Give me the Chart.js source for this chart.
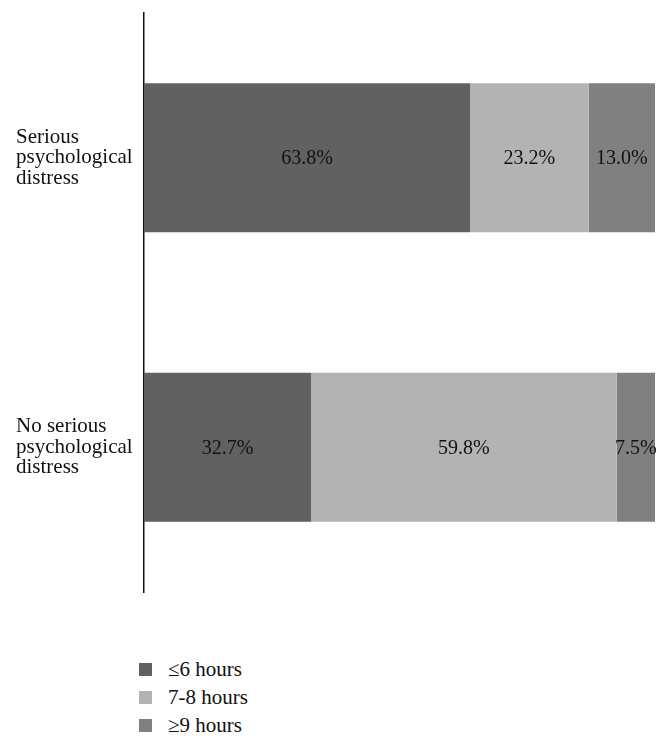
<!DOCTYPE html>
<html>
<head>
<meta charset="utf-8">
<script src="https://cdn.jsdelivr.net/npm/chart.js@4.4.1/dist/chart.umd.min.js"></script>
<style>
  body { margin: 0; background: #fff; }
  .wrap { position: relative; width: 671px; height: 746px; }
  #chart { position: absolute; left: 0; top: 0; }
  .legend { position: absolute; left: 139px; top: 655px; font-family: "Liberation Serif", serif; font-size: 21px; color: #111; }
  .legend div { height: 28px; display: flex; align-items: center; }
  .legend span.box { display: inline-block; width: 13px; height: 13px; margin-right: 16px; }
</style>
</head>
<body>
<div class="wrap">
  <canvas id="chart" width="671" height="606"></canvas>
  <div class="legend" id="legend"></div>
</div>
<script>
const categories = [
  ['Serious', 'psychological', 'distress'],
  ['No serious', 'psychological', 'distress']
];
const seriesNames = ['\u22646 hours', '7-8 hours', '\u22659 hours'];
const sixOrLess = [63.8, 32.7];
const sevenToEight = [23.2, 59.8];
const nineOrMore = [13.0, 7.5];
const colors = ['#616161', '#b3b3b3', '#808080'];

const font = 'Liberation Serif';

// draw the percentage in the middle of each segment
const segmentLabels = {
  id: 'segmentLabels',
  afterDatasetsDraw(chart) {
    const ctx = chart.ctx;
    ctx.save();
    ctx.font = `20px "${font}"`;
    ctx.fillStyle = '#111';
    ctx.textAlign = 'center';
    ctx.textBaseline = 'middle';
    chart.data.datasets.forEach((ds, i) => {
      chart.getDatasetMeta(i).data.forEach((bar, j) => {
        const x = (bar.x + bar.base) / 2;
        ctx.fillText(ds.data[j].toFixed(1) + '%', x, bar.y + 1);
      });
    });
    ctx.restore();
  }
};

const chart = new Chart(document.getElementById('chart'), {
  type: 'bar',
  data: {
    labels: categories,
    datasets: [
      { label: seriesNames[0], data: sixOrLess, backgroundColor: colors[0] },
      { label: seriesNames[1], data: sevenToEight, backgroundColor: colors[1] },
      { label: seriesNames[2], data: nineOrMore, backgroundColor: colors[2] }
    ]
  },
  options: {
    indexAxis: 'y',
    responsive: false,
    animation: false,
    layout: { padding: { left: 16, right: 16, top: 13, bottom: 14 } },
    datasets: {
      bar: { barPercentage: 1, categoryPercentage: 0.515 }
    },
    plugins: {
      legend: { display: false },
      tooltip: { enabled: false }
    },
    scales: {
      x: {
        stacked: true,
        min: 0,
        max: 100,
        display: false
      },
      y: {
        stacked: true,
        grid: { display: false },
        border: { display: true, color: '#111', width: 1.5 },
        ticks: {
          crossAlign: 'far',
          color: '#111',
          font: { family: font, size: 21, lineHeight: 0.98 }
        },
        afterFit(scale) {
          scale.width = 128;
          scale.paddingTop = 0;
          scale.paddingBottom = 0;
        }
      }
    }
  },
  plugins: [segmentLabels]
});

// vertical legend under the chart
const legendEl = document.getElementById('legend');
chart.data.datasets.forEach(ds => {
  const row = document.createElement('div');
  row.innerHTML = `<span class="box" style="background:${ds.backgroundColor}"></span>${ds.label}`;
  legendEl.appendChild(row);
});
</script>
</body>
</html>
